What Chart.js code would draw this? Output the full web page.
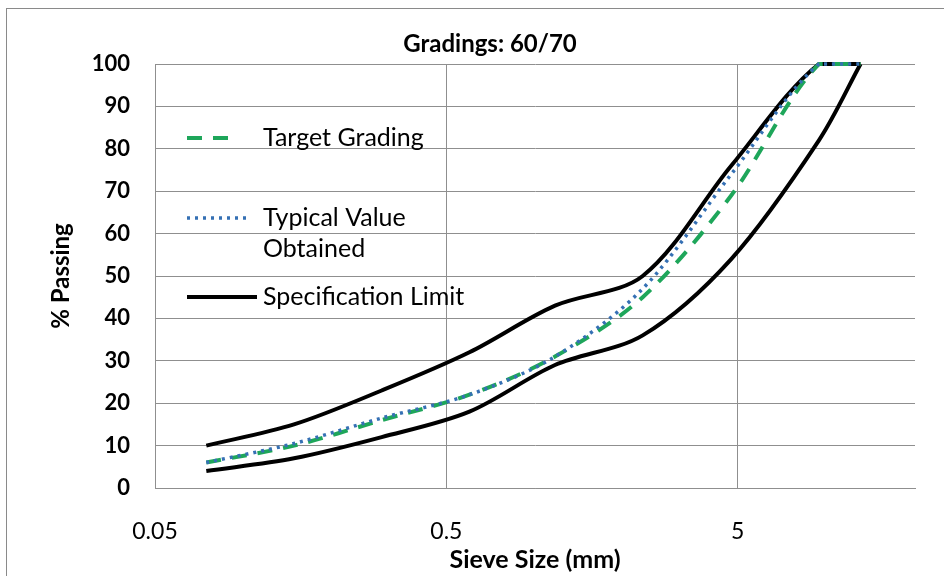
<!DOCTYPE html>
<html>
<head>
<meta charset="utf-8">
<script src="https://cdn.jsdelivr.net/npm/chart.js@4.4.1/dist/chart.umd.min.js"></script>
<style>
  html, body { margin: 0; padding: 0; background: #fff; }
</style>
</head>
<body>
<canvas id="myChart" width="944" height="576"></canvas>
<script>
// sieve sizes (mm) and % passing
const sieveSizes = [0.075, 0.15, 0.3, 0.6, 1.18, 2.36, 4.75, 9.5, 13.2];
const targetGrading = [6, 10, 16, 22, 31, 45, 69, 100, 100];
const typicalValue = [6, 10.5, 16.5, 22, 31, 47, 74, 100, 100];
const upperLimit = [10, 15, 23, 32, 43, 50, 76, 100, 100];
const lowerLimit = [4, 7, 12, 18, 29, 36, 54, 82, 100];

const xTicks = [0.05, 0.5, 5];
const chartTitle = 'Gradings: 60/70';

const toPoints = vals => sieveSizes.map((s, i) => ({ x: s, y: vals[i] }));

Chart.defaults.font.family = 'Lato, "Open Sans", sans-serif';
Chart.defaults.color = '#000';

const gridColor = '#8f8f8f';

// legend sits inside the plot, like the excel one
const legendItems = [
  { lines: ['Target Grading'], dataset: 1, y: 138, end: 238 },
  { lines: ['Typical Value', 'Obtained'], dataset: 0, y: 218, end: 248 },
  { lines: ['Specification Limit'], dataset: 2, y: 297, end: 257 }
];

const excelBits = {
  id: 'excelBits',
  beforeDraw(chart) {
    const ctx = chart.ctx;
    ctx.save();
    ctx.fillStyle = '#fff';
    ctx.fillRect(0, 0, chart.width, chart.height);
    ctx.strokeStyle = '#8a8a8a';
    ctx.lineWidth = 1;
    ctx.strokeRect(6.5, 8.5, 945, 580);
    // title (excel centres it a bit right of the plot)
    ctx.font = 'bold 24px Lato';
    ctx.fillStyle = '#000';
    ctx.textAlign = 'center';
    ctx.textBaseline = 'middle';
    ctx.fillText(chartTitle, 490, 44);
    ctx.restore();
  },
  afterDatasetsDraw(chart) {
    const ctx = chart.ctx;
    ctx.save();
    ctx.font = '25px Lato';
    ctx.fillStyle = '#000';
    ctx.textBaseline = 'middle';
    legendItems.forEach(item => {
      const ds = chart.data.datasets[item.dataset];
      ctx.beginPath();
      ctx.setLineDash(ds.borderDash || []);
      ctx.strokeStyle = ds.borderColor;
      ctx.lineWidth = ds.borderWidth;
      ctx.moveTo(187, item.y);
      ctx.lineTo(item.end, item.y);
      ctx.stroke();
      item.lines.forEach((t, i) => ctx.fillText(t, 263, item.y + i * 31));
    });
    ctx.restore();
  }
};

const data = {
  datasets: [
    {
      label: 'Typical Value Obtained',
      data: toPoints(typicalValue),
      borderColor: '#3570b4',
      borderWidth: 3.5,
      borderDash: [3, 5]
    },
    {
      label: 'Target Grading',
      data: toPoints(targetGrading),
      borderColor: '#1ea65a',
      borderWidth: 4,
      borderDash: [15, 11]
    },
    {
      label: 'Specification Limit',
      data: toPoints(upperLimit),
      borderColor: '#000',
      borderWidth: 4
    },
    {
      label: 'Specification Limit (lower)',
      data: toPoints(lowerLimit),
      borderColor: '#000',
      borderWidth: 4
    }
  ]
};

const config = {
  type: 'line',
  data: data,
  options: {
    responsive: false,
    animation: false,
    layout: { padding: { left: 0, right: 29, top: 64, bottom: 0 } },
    elements: {
      point: { radius: 0 },
      line: { tension: 0.32, fill: false }
    },
    datasets: { line: { clip: false } },
    plugins: {
      legend: { display: false },
      tooltip: { enabled: false },
      title: { display: false }
    },
    scales: {
      x: {
        type: 'logarithmic',
        min: 0.05,
        max: 20.3,
        afterBuildTicks: axis => { axis.ticks = xTicks.map(v => ({ value: v })); },
        afterFit: axis => { axis.height = 88; },
        ticks: {
          autoSkip: false,
          maxRotation: 0,
          padding: 30,
          font: { size: 23 },
          callback: v => String(v)
        },
        grid: { color: gridColor, drawTicks: false },
        border: { color: gridColor },
        title: {
          display: true,
          text: 'Sieve Size (mm)',
          font: { size: 25, weight: 'bold' },
          padding: { top: 0, bottom: 1 }
        }
      },
      y: {
        min: 0,
        max: 100,
        afterFit: axis => { axis.width = 155; },
        ticks: {
          stepSize: 10,
          padding: 25,
          font: { size: 22, weight: 'bold' }
        },
        grid: { color: gridColor, drawTicks: false },
        border: { color: gridColor },
        title: {
          display: true,
          text: '% Passing',
          font: { size: 24, weight: 'bold' },
          padding: { top: 47, bottom: 0 }
        }
      }
    }
  },
  plugins: [excelBits]
};

const myChart = new Chart(document.getElementById('myChart'), config);
</script>
</body>
</html>
